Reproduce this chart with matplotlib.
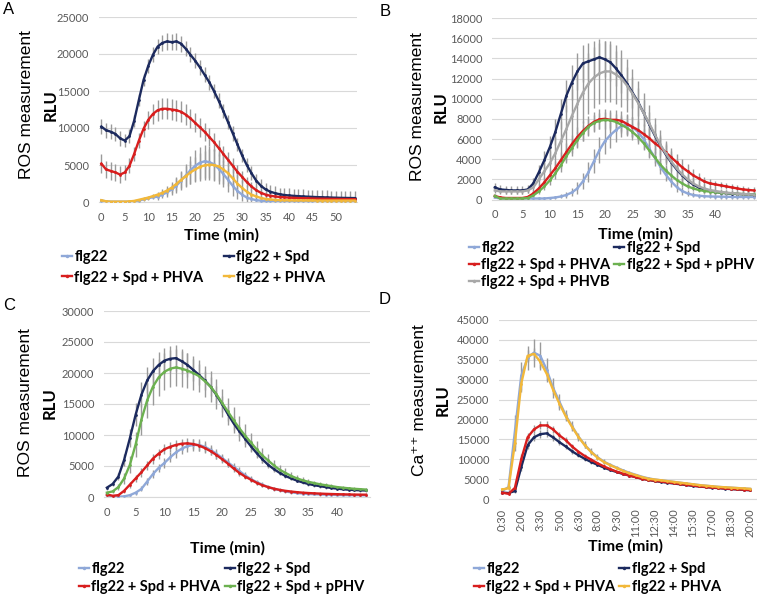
import matplotlib

matplotlib.use("Agg")
import matplotlib.pyplot as plt

W, H = 757, 597

# ---- panel A (minutes 0..54)
A_FLG22 = [200, 100, 50, 50, 50, 50, 50, 100, 200, 350, 500, 650, 700, 1000, 1300, 1700,
           2200, 2900, 3600, 4300, 4900, 5300, 5500, 5400, 5100, 4500, 3800, 3000, 2200, 1500,
           1000, 600, 400, 250, 180, 150, 130, 120, 110, 100, 100, 100, 100, 100, 100, 100,
           100, 100, 100, 100, 100, 100, 100, 100, 100]
A_FLG22_ERR = [200, 100, 100, 100, 100, 100, 100, 100, 100, 200, 200, 300, 400, 500, 600, 800,
               1000, 1300, 1600, 1900, 2100, 2200, 2200, 2200, 2100, 2000, 1800, 1600, 1400, 1100,
               900, 700, 500, 400, 300, 200, 200, 200, 200, 200, 200, 200, 200, 200, 200, 200,
               200, 200, 200, 200, 200, 200, 200, 200, 200]
A_SPD = [10200, 9700, 9500, 9200, 8600, 8300, 8900, 11000, 13800, 16500, 18400, 19900, 21000,
         21500, 21700, 21600, 21700, 21400, 20700, 19900, 19100, 18200, 17200, 16200, 15000,
         13700, 12300, 10800, 9300, 7800, 6300, 5000, 3900, 2900, 2200, 1700, 1400, 1200, 1050,
         950, 880, 830, 790, 750, 720, 690, 660, 640, 620, 600, 580, 560, 550, 540, 530]
A_SPD_ERR = [1000, 1000, 1000, 1000, 1000, 900, 900, 800, 800, 800, 900, 1000, 1000, 1100, 1100,
             1100, 1100, 1100, 1000, 1000, 1000, 1000, 1000, 1000, 1000, 1000, 1000, 1000, 1000,
             900, 900, 900, 900, 900, 900, 900, 900, 900, 900, 900, 950, 950, 950, 950, 950, 950,
             950, 950, 950, 950, 950, 950, 950, 950, 950]
A_SPD_PHVA = [5200, 4400, 4200, 4000, 3700, 4000, 4900, 6500, 8300, 9900, 11100, 11900, 12400,
              12600, 12600, 12500, 12400, 12200, 11800, 11300, 10700, 10100, 9500, 8800, 8100,
              7300, 6500, 5700, 4900, 4100, 3400, 2700, 2100, 1600, 1250, 1000, 850, 750, 680,
              630, 590, 560, 530, 510, 490, 470, 450, 440, 430, 420, 410, 400, 390, 385, 380]
A_SPD_PHVA_ERR = [1300, 1200, 1200, 1100, 1100, 1000, 1000, 1000, 1000, 1100, 1200, 1300, 1400,
                  1400, 1400, 1400, 1400, 1400, 1400, 1300, 1300, 1300, 1200, 1200, 1200, 1100,
                  1100, 1000, 1000, 900, 800, 700, 600, 500, 400, 400, 300, 300, 300, 300, 300,
                  300, 300, 300, 300, 300, 300, 300, 300, 300, 300, 300, 300, 300, 300]
A_PHVA = [250, 80, 50, 50, 50, 50, 80, 150, 300, 450, 600, 800, 1000, 1250, 1550, 1950, 2450,
          3000, 3500, 4000, 4400, 4750, 4950, 5050, 5000, 4800, 4400, 3900, 3200, 2500, 1900,
          1400, 1000, 750, 550, 420, 340, 290, 260, 240, 230, 220, 220, 210, 210, 210, 200, 200,
          200, 200, 200, 200, 200, 200, 200]
A_PHVA_ERR = [150, 100, 100, 100, 100, 100, 100, 100, 150, 200, 250, 300, 400, 500, 600, 700,
              900, 1100, 1300, 1500, 1700, 1900, 2000, 2100, 2100, 2000, 1900, 1700, 1500, 1300,
              1100, 900, 700, 500, 400, 300, 200, 200, 200, 200, 200, 200, 200, 200, 200, 200,
              200, 200, 200, 200, 200, 200, 200, 200, 200]
A_TICKS = [0, 5, 10, 15, 20, 25, 30, 35, 40, 45, 50]

# ---- panel B (minutes 0..47, image cut at the right)
B_FLG22 = [200, 100, 100, 100, 100, 100, 100, 100, 100, 100, 150, 200, 300, 450, 700, 1100,
           1800, 2700, 3800, 4900, 5800, 6400, 6900, 7300, 7400, 7200, 6700, 6000, 5100, 4200,
           3300, 2500, 1800, 1250, 850, 600, 450, 380, 330, 300, 290, 280, 270, 260, 250, 250,
           250, 250]
B_FLG22_ERR = [100, 100, 100, 100, 100, 100, 100, 100, 100, 100, 100, 150, 200, 300, 400, 600,
               800, 1000, 1200, 1300, 1300, 1300, 1200, 1100, 1000, 1000, 1000, 1000, 1000, 900,
               800, 700, 600, 500, 400, 300, 250, 200, 200, 200, 200, 200, 200, 200, 200, 200,
               200, 200]
B_SPD = [1200, 1000, 950, 900, 900, 900, 1000, 1600, 2700, 3900, 5200, 6700, 8500, 10300, 11600,
         12700, 13500, 13700, 13900, 14100, 13900, 13600, 13000, 12300, 11500, 10600, 9700, 8600,
         7500, 6400, 5400, 4500, 3700, 3000, 2400, 1900, 1500, 1200, 1000, 850, 750, 680, 620,
         580, 550, 520, 500, 480]
B_SPD_ERR = [400, 400, 400, 400, 400, 400, 400, 500, 700, 900, 1100, 1300, 1500, 1600, 1700,
             1800, 1800, 1800, 1800, 1800, 1800, 1800, 1700, 1700, 1600, 1500, 1400, 1300, 1200,
             1100, 1000, 900, 800, 700, 600, 500, 450, 400, 350, 300, 300, 300, 300, 300, 300,
             300, 300, 300]
B_SPD_PHVA = [350, 200, 150, 150, 150, 150, 250, 600, 1100, 1700, 2400, 3100, 3900, 4700, 5500,
              6200, 6800, 7300, 7700, 7950, 8000, 7900, 7900, 7800, 7500, 7200, 6900, 6500, 6100,
              5600, 5200, 4700, 4200, 3700, 3200, 2800, 2400, 2100, 1800, 1600, 1500, 1400, 1300,
              1200, 1100, 1000, 950, 900]
B_SPD_PHVA_ERR = [200, 150, 100, 100, 100, 100, 150, 300, 400, 500, 600, 700, 800, 900, 900,
                  1000, 1000, 1000, 1000, 1000, 1000, 1000, 1000, 1000, 1000, 1000, 1000, 1000,
                  1000, 1000, 1000, 950, 900, 850, 800, 700, 600, 500, 450, 400, 350, 300, 300,
                  300, 300, 300, 300, 300]
B_SPD_PPHV = [350, 100, 100, 100, 100, 100, 150, 400, 800, 1300, 1900, 2600, 3400, 4300, 5100,
              5900, 6600, 7200, 7600, 7800, 7900, 7850, 7700, 7400, 7100, 6700, 6200, 5600, 4900,
              4200, 3500, 2900, 2400, 1950, 1600, 1300, 1100, 950, 850, 780, 720, 680, 640, 600,
              570, 540, 520, 500]
B_SPD_PPHV_ERR = [150, 100, 100, 100, 100, 100, 100, 200, 300, 400, 500, 600, 700, 700, 800,
                  800, 800, 800, 800, 800, 800, 800, 800, 800, 800, 800, 700, 700, 700, 600, 600,
                  500, 500, 400, 400, 300, 300, 250, 250, 200, 200, 200, 200, 200, 200, 200, 200,
                  200]
B_SPD_PHVB = [900, 800, 800, 800, 800, 800, 900, 1200, 2000, 2800, 3600, 4600, 5800, 7000, 8300,
              9500, 10600, 11500, 12100, 12500, 12700, 12700, 12400, 12000, 11300, 10500, 9600,
              8600, 7600, 6500, 5500, 4600, 3800, 3100, 2500, 2000, 1600, 1300, 1100, 950, 850,
              760, 690, 630, 590, 550, 520, 490]
B_SPD_PHVB_ERR = [300, 300, 300, 300, 300, 300, 300, 400, 600, 900, 1200, 1600, 2000, 2400, 2700,
                  2900, 3000, 3000, 3000, 3000, 3000, 3000, 2900, 2800, 2600, 2400, 2200, 2000,
                  1800, 1600, 1400, 1200, 1000, 900, 800, 700, 600, 500, 450, 400, 350, 300, 300,
                  300, 300, 300, 300, 300]
B_TICKS = [0, 5, 10, 15, 20, 25, 30, 35, 40]

# ---- panel C (minutes 0..45)
C_FLG22 = [300, 100, 50, 100, 300, 700, 1300, 2500, 3700, 4700, 5500, 6400, 7200, 7800, 8200,
           8400, 8400, 8100, 7600, 7000, 6300, 5600, 4900, 4200, 3500, 2900, 2400, 2000, 1600,
           1300, 1100, 900, 750, 650, 560, 500, 450, 410, 380, 350, 330, 310, 300, 290, 280, 270]
C_FLG22_ERR = [100, 100, 100, 100, 200, 300, 400, 500, 600, 700, 800, 800, 900, 900, 900, 900,
               900, 900, 800, 800, 700, 700, 600, 600, 500, 500, 400, 400, 300, 300, 300, 250,
               250, 200, 200, 200, 200, 200, 200, 200, 200, 200, 200, 200, 200, 200]
C_SPD = [1500, 2100, 3300, 6000, 9500, 13300, 16500, 18800, 20300, 21300, 22000, 22300, 22400,
         21900, 21300, 20500, 19700, 18800, 17800, 16500, 15000, 13400, 11900, 10600, 9400, 8200,
         7100, 6100, 5200, 4500, 3900, 3400, 3000, 2650, 2350, 2100, 1900, 1750, 1600, 1450, 1350,
         1250, 1180, 1120, 1080, 1050]
C_SPD_ERR = [300, 400, 600, 1000, 1400, 1800, 2000, 2100, 2100, 2100, 2100, 2100, 2100, 2000,
             1900, 1800, 1700, 1600, 1500, 1400, 1300, 1200, 1100, 1000, 900, 800, 700, 600, 500,
             450, 400, 350, 300, 300, 300, 250, 250, 250, 250, 200, 200, 200, 200, 200, 200, 200]
C_SPD_PHVA = [400, 200, 300, 1000, 2000, 3000, 4000, 5100, 6200, 7000, 7700, 8100, 8400, 8600,
              8650, 8550, 8300, 7900, 7400, 6800, 6100, 5400, 4600, 3900, 3300, 2800, 2300, 1900,
              1600, 1350, 1150, 1000, 880, 780, 700, 640, 590, 550, 510, 480, 450, 430, 410, 390,
              380, 370]
C_SPD_PHVA_ERR = [200, 150, 150, 300, 500, 600, 700, 700, 800, 800, 800, 800, 800, 800, 800, 800,
                  800, 750, 700, 650, 600, 550, 500, 450, 400, 350, 300, 300, 250, 250, 200, 200,
                  200, 200, 200, 200, 200, 200, 200, 200, 200, 200, 200, 200, 200, 200]
C_SPD_PPHV = [700, 900, 1600, 3000, 5200, 8500, 12500, 15600, 17800, 19300, 20200, 20700, 20900,
              20700, 20400, 20000, 19500, 18700, 17800, 16600, 15200, 13800, 12400, 11100, 9900,
              8800, 7700, 6700, 5900, 5100, 4400, 3900, 3400, 3000, 2700, 2450, 2250, 2050, 1900,
              1750, 1600, 1500, 1400, 1320, 1260, 1200]
C_SPD_PPHV_ERR = [200, 300, 500, 900, 1400, 2000, 2500, 2800, 3000, 3000, 3000, 3000, 3000, 2900,
                  2800, 2700, 2600, 2500, 2500, 2400, 2300, 2200, 2100, 2000, 1800, 1600, 1400,
                  1200, 1000, 900, 800, 700, 600, 500, 450, 400, 350, 300, 300, 300, 250, 250,
                  250, 250, 250, 250]
C_TICKS = [0, 5, 10, 15, 20, 25, 30, 35, 40]

# ---- panel D (every 30 s from 0:30 to 20:00)
D_TIMES = ["0:30", "1:00", "1:30", "2:00", "2:30", "3:00", "3:30", "4:00", "4:30", "5:00",
           "5:30", "6:00", "6:30", "7:00", "7:30", "8:00", "8:30", "9:00", "9:30", "10:00",
           "10:30", "11:00", "11:30", "12:00", "12:30", "13:00", "13:30", "14:00", "14:30",
           "15:00", "15:30", "16:00", "16:30", "17:00", "17:30", "18:00", "18:30", "19:00",
           "19:30", "20:00"]
D_FLG22 = [2000, 3000, 17000, 31000, 35500, 36800, 36000, 32500, 28000, 24500, 21000, 18300,
           15700, 13600, 11900, 10500, 9400, 8600, 7900, 7200, 6600, 6100, 5600, 5200, 4900,
           4700, 4500, 4300, 4100, 3900, 3700, 3500, 3350, 3200, 3050, 2950, 2850, 2750, 2650,
           2550]
D_FLG22_ERR = [300, 800, 4000, 3500, 3000, 3500, 3500, 3000, 2500, 2000, 1500, 1200, 1000, 900,
               800, 700, 600, 500, 450, 400, 350, 300, 300, 300, 250, 250, 250, 250, 200, 200,
               200, 200, 200, 200, 200, 200, 200, 200, 200, 200]
D_SPD = [1600, 1500, 2000, 8000, 13500, 15500, 16300, 16500, 15500, 14300, 13200, 12000, 11000,
         10100, 9300, 8600, 7900, 7300, 6800, 6300, 5900, 5500, 5100, 4800, 4500, 4300, 4100,
         3900, 3700, 3500, 3300, 3150, 3000, 2850, 2750, 2600, 2500, 2400, 2300, 2200]
D_SPD_ERR = [200, 200, 400, 1000, 1000, 1000, 1000, 1000, 900, 800, 700, 600, 500, 450, 400,
             350, 300, 300, 250, 250, 200, 200, 200, 200, 200, 200, 200, 200, 200, 200, 200, 200,
             200, 200, 200, 200, 200, 200, 200, 200]
D_SPD_PHVA = [1600, 1300, 2800, 10000, 15500, 17500, 18500, 18500, 17500, 16000, 14800, 13200,
              11900, 10800, 9900, 9000, 8200, 7500, 6900, 6400, 5900, 5500, 5100, 4800, 4600,
              4400, 4200, 4000, 3800, 3600, 3400, 3200, 3050, 2900, 2800, 2650, 2550, 2450, 2350,
              2250]
D_SPD_PHVA_ERR = [200, 200, 500, 1200, 1000, 1000, 1000, 1000, 900, 800, 700, 600, 500, 450,
                  400, 350, 300, 300, 250, 250, 200, 200, 200, 200, 200, 200, 200, 200, 200, 200,
                  200, 200, 200, 200, 200, 200, 200, 200, 200, 200]
D_PHVA = [2400, 2700, 14000, 29000, 36000, 36500, 34500, 31500, 27500, 24000, 20800, 18100,
          15600, 13500, 11800, 10400, 9300, 8500, 7800, 7100, 6500, 6000, 5500, 5100, 4900, 4700,
          4500, 4300, 4100, 3900, 3700, 3500, 3350, 3200, 3050, 2950, 2850, 2750, 2650, 2550]
D_PHVA_ERR = [300, 500, 2000, 2000, 1500, 1500, 1500, 1500, 1200, 1000, 900, 800, 700, 600, 500,
              450, 400, 350, 300, 300, 250, 250, 250, 250, 200, 200, 200, 200, 200, 200, 200, 200,
              200, 200, 200, 200, 200, 200, 200, 200]

C_LIGHT = "#8fa8d8"
C_NAVY = "#1c2a5e"
C_RED = "#d81e1e"
C_YELLOW = "#f2b83a"
C_GREEN = "#6cb150"
C_GRAY = "#a8a8a8"
TICK_COLOR = "#595959"
GRID_COLOR = "#d9d9d9"

plt.rcParams["font.family"] = ["Lato", "DejaVu Sans"]

fig = plt.figure(figsize=(W / 100, H / 100), dpi=100)


def px_axes(left, top, right, bottom):
    return fig.add_axes([left / W, 1 - bottom / H, (right - left) / W, (bottom - top) / H])


def draw_panel(ax, series, ymax, ystep, xlim, xticks, xlabels, rot=0):
    for values, err, color in series:
        x = list(range(len(values)))
        ax.errorbar(x, values, yerr=err, fmt="none", ecolor="#9a9a9a", elinewidth=1.0,
                    capsize=0, zorder=2)
    for values, err, color in series:
        x = list(range(len(values)))
        ax.plot(x, values, color=color, lw=1.7, marker="o", ms=2.0, mew=0, zorder=3)
    ax.set_ylim(0, ymax)
    ax.set_yticks(range(0, ymax + 1, ystep))
    ax.set_xlim(*xlim)
    ax.set_xticks(xticks)
    ax.set_xticklabels(xlabels, rotation=rot)
    ax.grid(axis="y", color=GRID_COLOR, lw=0.8)
    ax.set_axisbelow(True)
    for side in ("left", "right", "top"):
        ax.spines[side].set_visible(False)
    ax.spines["bottom"].set_color(GRID_COLOR)
    ax.tick_params(length=0, colors=TICK_COLOR, labelsize=8, pad=7)


def legend(labels_colors, x, y, colspace, rowspace):
    handles = [plt.Line2D([], [], color=c, lw=1.7, marker="o", ms=2.5, mew=0)
               for _, c in labels_colors]
    labels = [t for t, _ in labels_colors]
    fig.legend(handles, labels, ncol=2, loc="upper left", bbox_to_anchor=(x / W, 1 - y / H),
               frameon=False, borderaxespad=0, borderpad=0, handlelength=0.7,
               handletextpad=0.15, columnspacing=colspace, labelspacing=rowspace,
               prop={"family": "Lato", "weight": "bold", "size": 10.5})


def ylabels(xa, xb, yc, first):
    fig.text(xa / W, 1 - yc / H, first, rotation=90, ha="center", va="center",
             family=["Liberation Sans", "DejaVu Sans"], fontsize=12.5)
    fig.text(xb / W, 1 - yc / H, "RLU", rotation=90, ha="center", va="center",
             family="Lato", weight="bold", fontsize=12)


def xlabel(xc, yc):
    fig.text(xc / W, 1 - yc / H, "Time (min)", ha="center", va="center", family="Lato",
             weight="bold", fontsize=11.5)


# A
axA = px_axes(99, 17, 357, 202)
draw_panel(axA, [(A_FLG22, A_FLG22_ERR, C_LIGHT), (A_SPD, A_SPD_ERR, C_NAVY),
                 (A_SPD_PHVA, A_SPD_PHVA_ERR, C_RED), (A_PHVA, A_PHVA_ERR, C_YELLOW)],
           25000, 5000, (-0.5, 54.5), A_TICKS, [str(t) for t in A_TICKS])
# B
axB = px_axes(492, 18, 757, 199.5)
draw_panel(axB, [(B_FLG22, B_FLG22_ERR, C_LIGHT), (B_SPD, B_SPD_ERR, C_NAVY),
                 (B_SPD_PHVA, B_SPD_PHVA_ERR, C_RED), (B_SPD_PPHV, B_SPD_PPHV_ERR, C_GREEN),
                 (B_SPD_PHVB, B_SPD_PHVB_ERR, C_GRAY)],
           18000, 2000, (-0.5, 47.6), B_TICKS, [str(t) for t in B_TICKS])
# C
axC = px_axes(104, 311, 370, 497)
draw_panel(axC, [(C_FLG22, C_FLG22_ERR, C_LIGHT), (C_SPD, C_SPD_ERR, C_NAVY),
                 (C_SPD_PHVA, C_SPD_PHVA_ERR, C_RED), (C_SPD_PPHV, C_SPD_PPHV_ERR, C_GREEN)],
           30000, 5000, (-0.5, 45.7), C_TICKS, [str(t) for t in C_TICKS])
# D
axD = px_axes(499, 320, 757, 499)
d_ticks = list(range(0, len(D_TIMES), 3))
draw_panel(axD, [(D_FLG22, D_FLG22_ERR, C_LIGHT), (D_SPD, D_SPD_ERR, C_NAVY),
                 (D_SPD_PHVA, D_SPD_PHVA_ERR, C_RED), (D_PHVA, D_PHVA_ERR, C_YELLOW)],
           45000, 5000, (-0.5, 40.1), d_ticks, [D_TIMES[i] for i in d_ticks], rot=90)

ylabels(27, 51, 105, "ROS measurement")
ylabels(418, 441, 107, "ROS measurement")
ylabels(26, 50, 403, "ROS measurement")
ylabels(420, 443, 400, "Ca\u207a\u207a measurement")

xlabel(221, 235)
xlabel(636, 234)
xlabel(228, 548)
xlabel(626, 546)

legend([("flg22", C_LIGHT), ("flg22 + Spd + PHVA", C_RED), ("flg22 + Spd", C_NAVY),
        ("flg22 + PHVA", C_YELLOW)], 62, 250, 1.4, 0.45)
legend([("flg22", C_LIGHT), ("flg22 + Spd + PHVA", C_RED), ("flg22 + Spd + PHVB", C_GRAY),
        ("flg22 + Spd", C_NAVY), ("flg22 + Spd + pPHV", C_GREEN)], 469, 241, 0.25, 0.2)
legend([("flg22", C_LIGHT), ("flg22 + Spd + PHVA", C_RED), ("flg22 + Spd", C_NAVY),
        ("flg22 + Spd + pPHV", C_GREEN)], 79, 562, 0.3, 0.25)
legend([("flg22", C_LIGHT), ("flg22 + Spd + PHVA", C_RED), ("flg22 + Spd", C_NAVY),
        ("flg22 + PHVA", C_YELLOW)], 474, 562, 0.25, 0.25)

for letter, x, y in (("A", 9, 10), ("B", 385, 12), ("C", 9, 305), ("D", 385, 300)):
    fig.text(x / W, 1 - y / H, letter, ha="center", va="center", family="Liberation Sans",
             fontsize=12)

fig.savefig("out.png", dpi=100)
